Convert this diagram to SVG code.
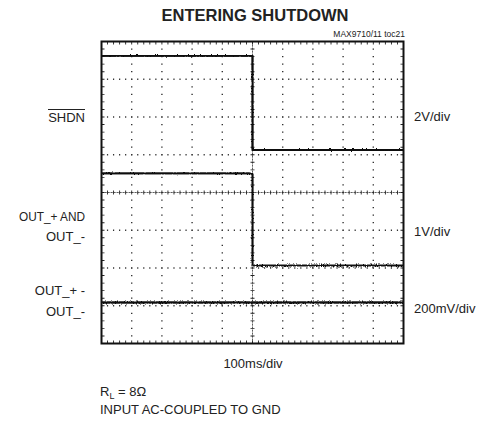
<svg xmlns="http://www.w3.org/2000/svg" width="479" height="421" viewBox="0 0 479 421">
<defs>
<style>
text{font-family:"Liberation Sans",Arial,sans-serif;fill:#222}
.lbl{font-size:13px}
.grid{stroke:#333;stroke-width:1.4;fill:none}
.gv{stroke-dasharray:1.2 6.35;stroke-dashoffset:0.6}
.gh{stroke-dasharray:1.2 4.84;stroke-dashoffset:0.6}
.tick{stroke:#222;fill:none}
.trace{stroke:#111;fill:none;stroke-linejoin:round}
</style>
<filter id="noise" filterUnits="userSpaceOnUse" x="95" y="35" width="320" height="315">
<feTurbulence type="fractalNoise" baseFrequency="0.8 0.5" numOctaves="2" seed="3" result="n"/>
<feDisplacementMap in="SourceGraphic" in2="n" scale="2.5" xChannelSelector="R" yChannelSelector="G"/>
</filter>
<filter id="noise2" filterUnits="userSpaceOnUse" x="95" y="35" width="320" height="315">
<feTurbulence type="fractalNoise" baseFrequency="1.2 0.6" numOctaves="2" seed="7" result="n"/>
<feDisplacementMap in="SourceGraphic" in2="n" scale="4" xChannelSelector="R" yChannelSelector="G"/>
</filter>
</defs>
<rect width="479" height="421" fill="#fff"/>

<g id="title">
<text x="255" y="21" text-anchor="middle" font-size="16.5" font-weight="bold">ENTERING SHUTDOWN</text>
<text x="405" y="36.5" text-anchor="end" font-size="8.5">MAX9710/11 toc21</text>
</g>

<g id="grid">
<path class="grid gv" d="M131.7,41.5V343.5M161.9,41.5V343.5M192.1,41.5V343.5M222.3,41.5V343.5M282.7,41.5V343.5M312.9,41.5V343.5M343.1,41.5V343.5M373.3,41.5V343.5"/>
<path class="grid gh" d="M101.5,79.25H403.5M101.5,117H403.5M101.5,154.75H403.5M101.5,230.25H403.5M101.5,268H403.5M101.5,305.75H403.5"/>
<path stroke="#333" stroke-width="0.8" stroke-dasharray="2.2 0.8" d="M101.5,192.5H403.5M252.5,41.5V343.5"/>
<path class="tick" stroke-width="4" stroke-dasharray="0.9 5.14" stroke-dashoffset="0.45" d="M101.5,192.5H403.5"/>
<path class="tick" stroke-width="4" stroke-dasharray="0.9 6.65" stroke-dashoffset="0.45" d="M252.5,41.5V343.5"/>
<path class="tick" stroke-width="3" stroke-dasharray="0.9 5.14" stroke-dashoffset="0.45" d="M101.5,43H403.5M101.5,342H403.5"/>
<path class="tick" stroke-width="3" stroke-dasharray="0.9 6.65" stroke-dashoffset="0.45" d="M103,41.5V343.5M402,41.5V343.5"/>
<rect x="101.5" y="41.5" width="302" height="302" fill="none" stroke="#111" stroke-width="2"/>
</g>

<g id="traces">
<g id="shdn-trace">
<path class="trace" stroke-width="1.8" d="M102,55.8H252.5V150H403"/>
<path class="trace" stroke-width="1.8" filter="url(#noise)" d="M102,55.8H252.5V150H403"/>
</g>
<g id="out-trace">
<path class="trace" stroke-width="1.7" d="M102,173.3H249L252.5,174V265.5"/>
<path class="trace" stroke-width="1.7" filter="url(#noise)" d="M102,173.3H249L252.5,174V265.5"/>
<path class="trace" stroke="#444" stroke-width="1.2" d="M253,265.5H403"/>
<path class="trace" stroke="#333" stroke-width="1.8" filter="url(#noise2)" d="M253,265.5H403"/>
</g>
<g id="diff-trace">
<path class="trace" stroke-width="2.2" d="M102,302.5H403"/>
<path class="trace" stroke-width="2.2" filter="url(#noise2)" d="M102,302.5H403"/>
</g>
</g>

<g id="left-labels">
<text class="lbl" x="85" y="122" text-anchor="end">SHDN</text>
<line x1="48" y1="109.5" x2="85" y2="109.5" stroke="#222" stroke-width="1"/>
<text class="lbl" x="85" y="220.5" text-anchor="end" textLength="66" lengthAdjust="spacingAndGlyphs">OUT_+ AND</text>
<text class="lbl" x="85" y="241" text-anchor="end">OUT_-</text>
<text class="lbl" x="85" y="295" text-anchor="end">OUT_+ -</text>
<text class="lbl" x="85" y="315.5" text-anchor="end">OUT_-</text>
</g>

<g id="right-labels">
<text class="lbl" x="414" y="121">2V/div</text>
<text class="lbl" x="414" y="236">1V/div</text>
<text class="lbl" x="414" y="313">200mV/div</text>
</g>

<g id="bottom-labels">
<text class="lbl" x="253" y="368" text-anchor="middle">100ms/div</text>
<text class="lbl" x="100" y="396">R<tspan font-size="9" dy="3">L</tspan><tspan dy="-3"> = 8Ω</tspan></text>
<text class="lbl" x="100" y="413.5">INPUT AC-COUPLED TO GND</text>
</g>
</svg>
